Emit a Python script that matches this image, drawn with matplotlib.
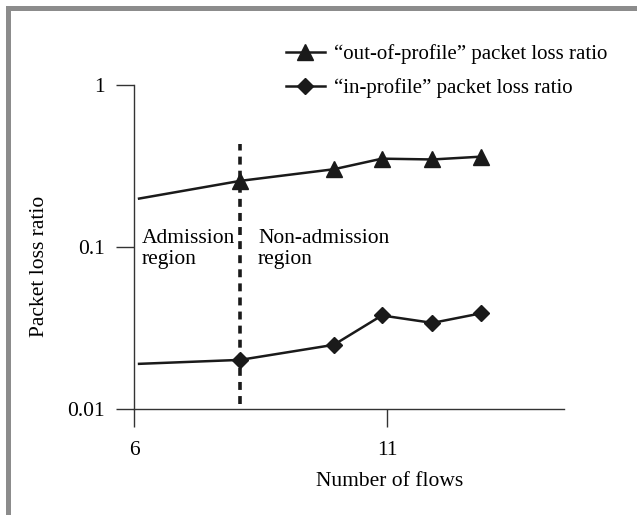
import numpy as np
import matplotlib
matplotlib.use("Agg")
import matplotlib.pyplot as plt
from matplotlib.patches import Rectangle
from matplotlib.lines import Line2D

plt.rcParams['font.family'] = ['Liberation Serif', 'DejaVu Serif']

# Data
flows = [6.1, 8.1, 9.95, 10.9, 11.9, 12.85]
out_profile = [0.199, 0.256, 0.302, 0.351, 0.347, 0.361]
in_profile = [0.0190, 0.0201, 0.0249, 0.0378, 0.0340, 0.0389]
boundary_x = 8.1
x_ticks = [6, 11]
y_ticks = [0.01, 0.1, 1]
y_tick_labels = ["0.01", "0.1", "1"]

W, H = 637, 515
fs = 15.5
fig = plt.figure(figsize=(W / 100, H / 100), dpi=100)

# grey frame on left and top
fig.patches.append(Rectangle((6 / W, 0), 5 / W, 1 - 6 / H, transform=fig.transFigure,
                             color="#8c8c8c", lw=0))
fig.patches.append(Rectangle((6 / W, 1 - 11 / H), 1 - 6 / W, 5 / H, transform=fig.transFigure,
                             color="#8c8c8c", lw=0))

ax = fig.add_axes([134 / W, 1 - 409 / H, 430 / W, 324 / H])
ax.set_yscale("log")
ax.set_xlim(6, 14.5)
ax.set_ylim(0.01, 1)

col = "#1a1a1a"
ax.plot(flows, out_profile, color=col, lw=1.8)
ax.plot(flows[1:], out_profile[1:], ls="none", marker="^", ms=11, color=col)
ax.plot(flows, in_profile, color=col, lw=1.8)
ax.plot(flows[1:], in_profile[1:], ls="none", marker="D", ms=8, color=col)

ax.plot([boundary_x, boundary_x], [0.0107, 0.43], color=col, lw=2.6, ls=(0, (2.2, 1.7)))

ax.text(6.15, 0.097, "Admission\nregion", fontsize=fs, va="center", ha="left",
        linespacing=1.1)
ax.text(8.45, 0.097, "Non-admission\nregion", fontsize=fs, va="center", ha="left",
        linespacing=1.1)

for s in ["top", "right"]:
    ax.spines[s].set_visible(False)
for s in ["left", "bottom"]:
    ax.spines[s].set_color("#333333")
    ax.spines[s].set_linewidth(1.0)

ax.set_xticks(x_ticks)
ax.set_xticklabels([str(t) for t in x_ticks], fontsize=fs)
ax.set_yticks(y_ticks)
ax.set_yticklabels(y_tick_labels, fontsize=fs)
ax.yaxis.set_minor_locator(matplotlib.ticker.NullLocator())
ax.tick_params(axis="both", direction="out", length=13, width=1.0, color="#333333")
ax.tick_params(axis="x", pad=10)
ax.tick_params(axis="y", pad=8)

ax.set_ylabel("Packet loss ratio", fontsize=fs)
ax.yaxis.set_label_coords(-(134 - 40) / 430, 1 - (266 - 85) / 324)
ax.set_xlabel("Number of flows", fontsize=fs)
ax.xaxis.set_label_coords((390 - 134) / 430, -(481 - 409) / 324)
ax.xaxis.label.set_va("center")
ax.yaxis.label.set_va("center")

h1 = Line2D([], [], color=col, lw=1.8, marker="^", ms=11)
h2 = Line2D([], [], color=col, lw=1.8, marker="D", ms=8)
fig.legend([h1, h2], ["“out-of-profile” packet loss ratio", "“in-profile” packet loss ratio"],
           loc="upper left", bbox_to_anchor=(286 / W, 1 - 44 / H), frameon=False,
           fontsize=15, handlelength=1.85, handletextpad=0.45, labelspacing=0.7,
           borderaxespad=0, borderpad=0)

fig.savefig("out.png", dpi=100)
